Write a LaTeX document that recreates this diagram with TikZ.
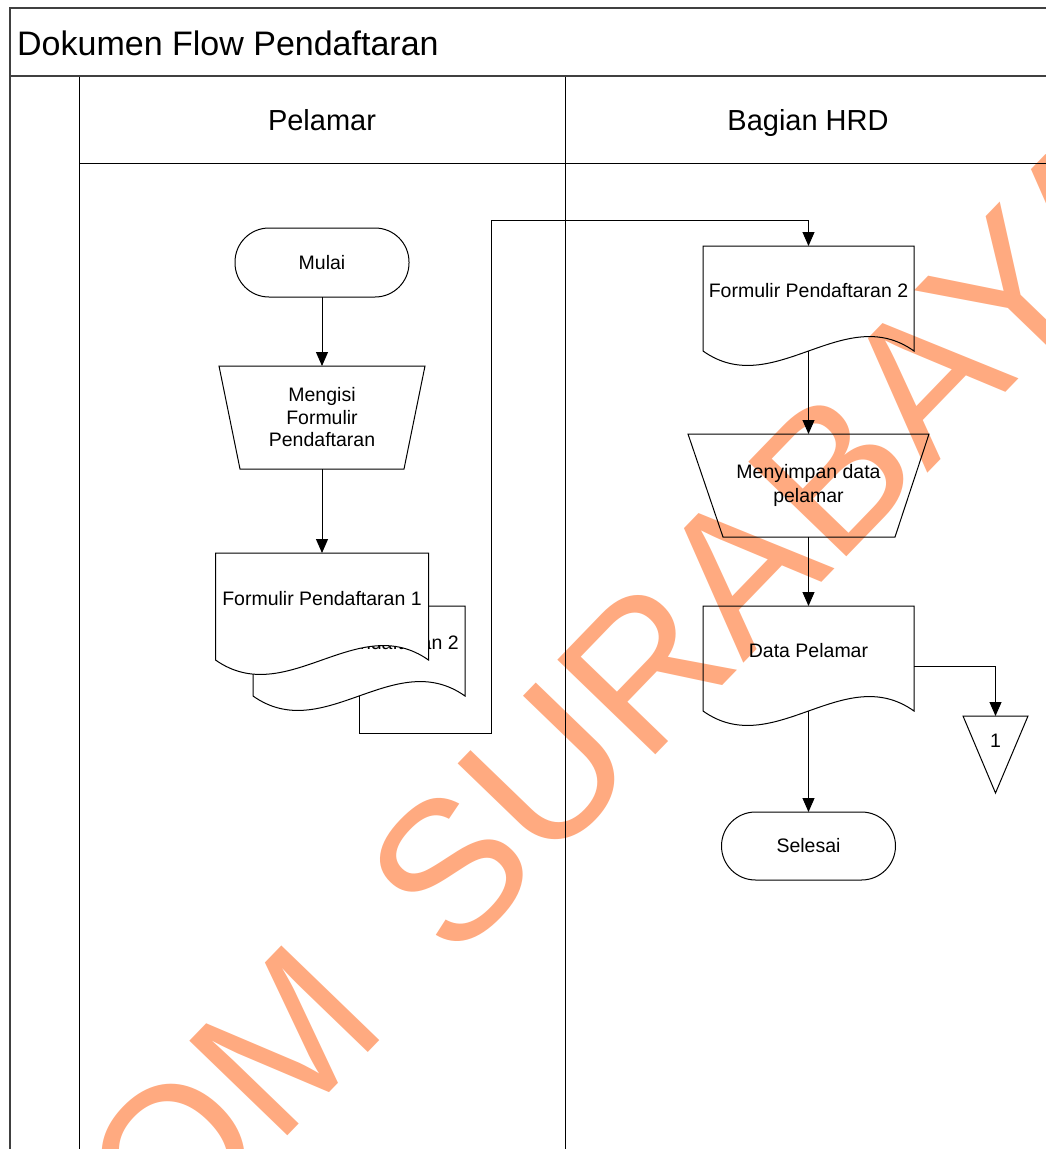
\documentclass[tikz,border=0pt]{standalone}
\usepackage{fontspec}
\setmainfont{Liberation Sans}
\usetikzlibrary{arrows.meta}
\definecolor{wmorange}{RGB}{255,170,128}
\definecolor{framegray}{RGB}{64,64,64}
\newcommand{\flowfont}{\fontsize{19.5}{22.5}\selectfont}
% document symbol: name, cx, top, width, side height, text
\newcommand{\dokumen}[6]{%
  \draw[shapeline, fill=white] ({#2-#4/2},{#3}) -- ({#2+#4/2},{#3}) -- ({#2+#4/2},{#3+#5})
     .. controls ({#2+#4/6},{#3+#5-50}) and ({#2-#4/6},{#3+#5+50}) .. ({#2-#4/2},{#3+#5}) -- cycle;
  \node[docnode, minimum width=#4pt, minimum height=#5pt] (#1) at (#2,{#3+#5/2}) {#6};
}
% manual operation: name, cx, top, width, height, inset left, inset right, text, extra options
\newcommand{\manop}[9]{%
  \draw[shapeline, fill=white] ({#2-#4/2},{#3}) -- ({#2+#4/2},{#3}) -- ({#2+#4/2-#7},{#3+#5}) -- ({#2-#4/2+#6},{#3+#5}) -- cycle;
  \node[opnode, minimum width=#4pt, minimum height=#5pt, #9] (#1) at (#2,{#3+#5/2}) {#8};
}
\begin{document}
\begin{tikzpicture}[x=1pt, y=-1pt,
  shapeline/.style={line width=1pt, draw=black},
  docnode/.style={font=\flowfont, inner sep=0pt, outer sep=0pt, text height=14pt, text depth=17pt},
  opnode/.style={font=\flowfont, inner sep=0pt, outer sep=0pt, align=center},
  term/.style={draw=black, line width=1pt, fill=white, rounded corners=34pt, minimum width=174pt, minimum height=69pt, inner sep=0pt, outer sep=0pt, font=\flowfont},
  conn/.style={line width=1pt, draw=black, -{Triangle[length=14pt,width=12pt]}},
  frameline/.style={line width=2pt, draw=framegray},
  laneline/.style={line width=1pt, draw=black},
  lanehead/.style={font=\fontsize{29}{33}\selectfont, inner sep=0pt, anchor=base}
]
\useasboundingbox (0,0) rectangle (1046,1149);
\clip (0,0) rectangle (1046,1149);
\fill[white] (0,0) rectangle (1046,1149);

% frame and lanes
\draw[frameline] (10,1160) -- (10,8) -- (1060,8);
\draw[frameline] (10,76) -- (1060,76);
\draw[laneline] (79,77) -- (79,1160);
\draw[laneline] (565,77) -- (565,1160);
\draw[laneline] (79,163) -- (1060,163);

\node[anchor=base west, font=\fontsize{34}{40}\selectfont, inner sep=0pt] (title) at (17,55) {Dokumen Flow Pendaftaran};
\node[lanehead] (hpel) at (322,130) {Pelamar};
\node[lanehead] (hhrd) at (808,130) {Bagian HRD};

% Pelamar lane
\node[term] (mulai) at (322,262.5) {Mulai};
\manop{m1}{322}{366}{206}{103}{21}{21}{Mengisi\\Formulir\\Pendaftaran}{}
\dokumen{f2}{359}{606}{212}{90}{Formulir Pendaftaran 2}
\dokumen{f1}{322}{553}{213}{107}{Formulir Pendaftaran 1}

% Bagian HRD lane
\dokumen{f3}{808.5}{246}{211}{105}{Formulir Pendaftaran 2}
\manop{m2}{808.5}{434}{241}{103}{35}{34}{Menyimpan data\\pelamar}{font=\fontsize{19.5}{24}\selectfont}
\dokumen{f4}{808.5}{606}{211}{105}{Data Pelamar}
\node[term, minimum height=68pt] (selesai) at (808.5,846) {Selesai};
\draw[shapeline, fill=white] (963,716) -- (1028,716) -- (995.5,793) -- cycle;
\node[inner sep=0pt, outer sep=0pt, minimum width=65pt, minimum height=77pt, text height=14pt, text depth=29pt, font=\flowfont] (tri) at (995.5,754.5) {1};

% connectors
\coordinate (c1) at (491,733);
\coordinate (c2) at (491,220);
\draw[conn] (mulai.south) -- (m1.north);
\draw[conn] (m1.south) -- (f1.north);
\draw[conn] (f2.south) |- (c1) -- (c2) -| (f3.north);
\draw[conn] (f3.south) -- (m2.north);
\draw[conn] (m2.south) -- (f4.north);
\draw[conn] (f4.south) -- (selesai.north);
\draw[conn] ([yshift=-7.5pt]f4.east) -| (tri.north);

% watermark
\begin{scope}[blend mode=multiply]
\node[rotate=46, text=wmorange, inner sep=0pt, font=\fontsize{198}{198}\selectfont, text height=142pt, text depth=0pt] (wm) at (472,843) {STIKOM\hspace{90pt}SURABAYA};
\end{scope}
\end{tikzpicture}
\end{document}
